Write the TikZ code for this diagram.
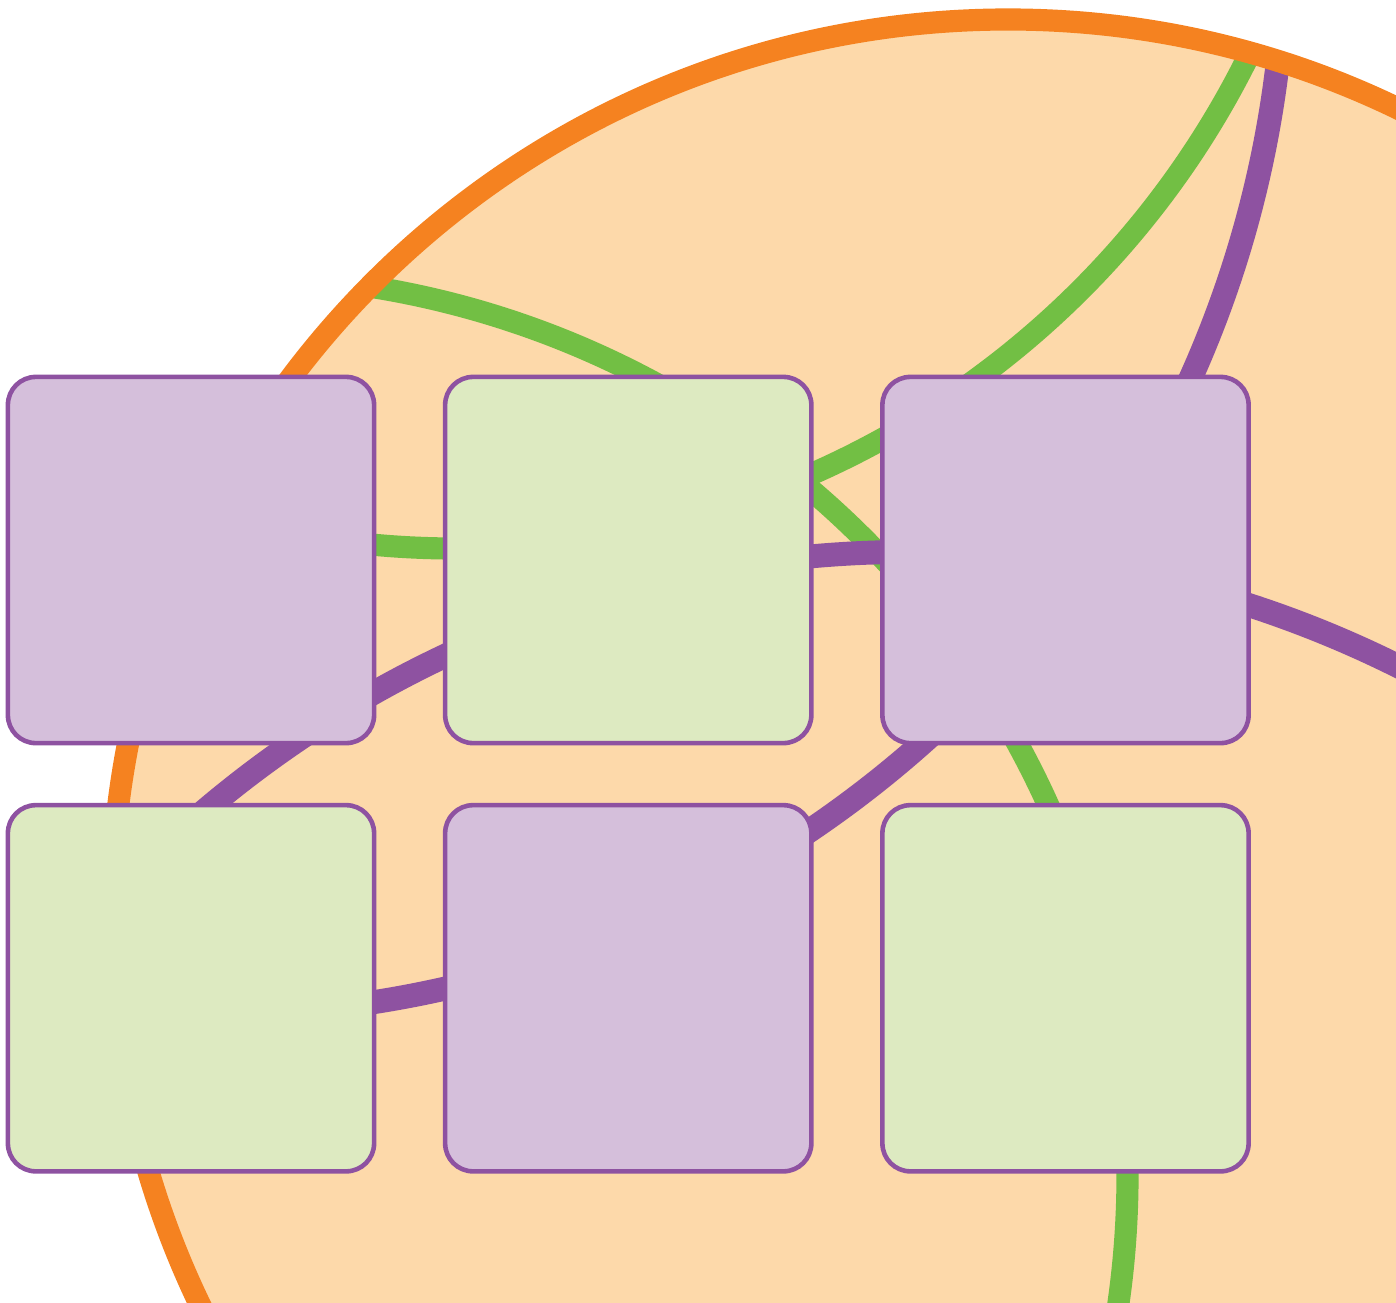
\documentclass[tikz,border=0pt]{standalone}
\definecolor{peach}{HTML}{FDD9AA}
\definecolor{rimOrange}{HTML}{F58220}
\definecolor{plum}{HTML}{8E52A1}
\definecolor{lilac}{HTML}{D5BFDB}
\definecolor{leaf}{HTML}{72BF44}
\definecolor{paleLeaf}{HTML}{DDEAC1}
\tikzset{%
  % Specifications for style of nodes:
         base/.style = {rectangle, rounded corners=0.28cm, draw=plum,
                        line width=1.3pt, minimum width=3.66cm,
                        minimum height=3.66cm},
      plumBox/.style = {base, fill=lilac},
      leafBox/.style = {base, fill=paleLeaf},
  % Specifications for style of the arcs:
    greenWire/.style = {draw=leaf, line width=6.3pt},
     plumWire/.style = {draw=plum, line width=6.8pt},
}
\begin{document}
\begin{tikzpicture}[x=0.01cm, y=-0.01cm, node distance=4.37cm]
  \useasboundingbox (0,0) rectangle (1396,1302);
  \clip (0,0) rectangle (1396,1302);
  % Specification of the globe and the centres of its arcs
  \coordinate (globe)     at (1008,916);
  \coordinate (arcGreenA) at (228,1175);
  \coordinate (arcGreenB) at (456,-335);
  \coordinate (arcPlumA)  at (206,-64);
  \coordinate (arcPlumB)  at (911,1645);
  \fill[peach] (globe) circle [radius=8.96cm];
  \begin{scope}
    \clip (globe) circle [radius=8.96cm];
    \draw[greenWire] (arcGreenA) circle [radius=8.99cm];
    \draw[greenWire] (arcGreenB) circle [radius=8.83cm];
    \draw[plumWire]  (arcPlumA)  circle [radius=10.785cm];
    \draw[plumWire]  (arcPlumB)  circle [radius=10.925cm];
  \end{scope}
  \draw[rimOrange, line width=6.3pt] (globe) circle [radius=8.96cm];
  % Specification of nodes (position, etc.)
    \node (topLeft)  [plumBox] at (191,560)                    {};
    \node (topMid)   [leafBox, right of=topLeft]               {};
    \node (topRight) [plumBox, right of=topMid]                {};
    \node (botLeft)  [leafBox, below of=topLeft, yshift=0.09cm] {};
    \node (botMid)   [plumBox, right of=botLeft]               {};
    \node (botRight) [leafBox, right of=botMid]                {};
\end{tikzpicture}
\end{document}
